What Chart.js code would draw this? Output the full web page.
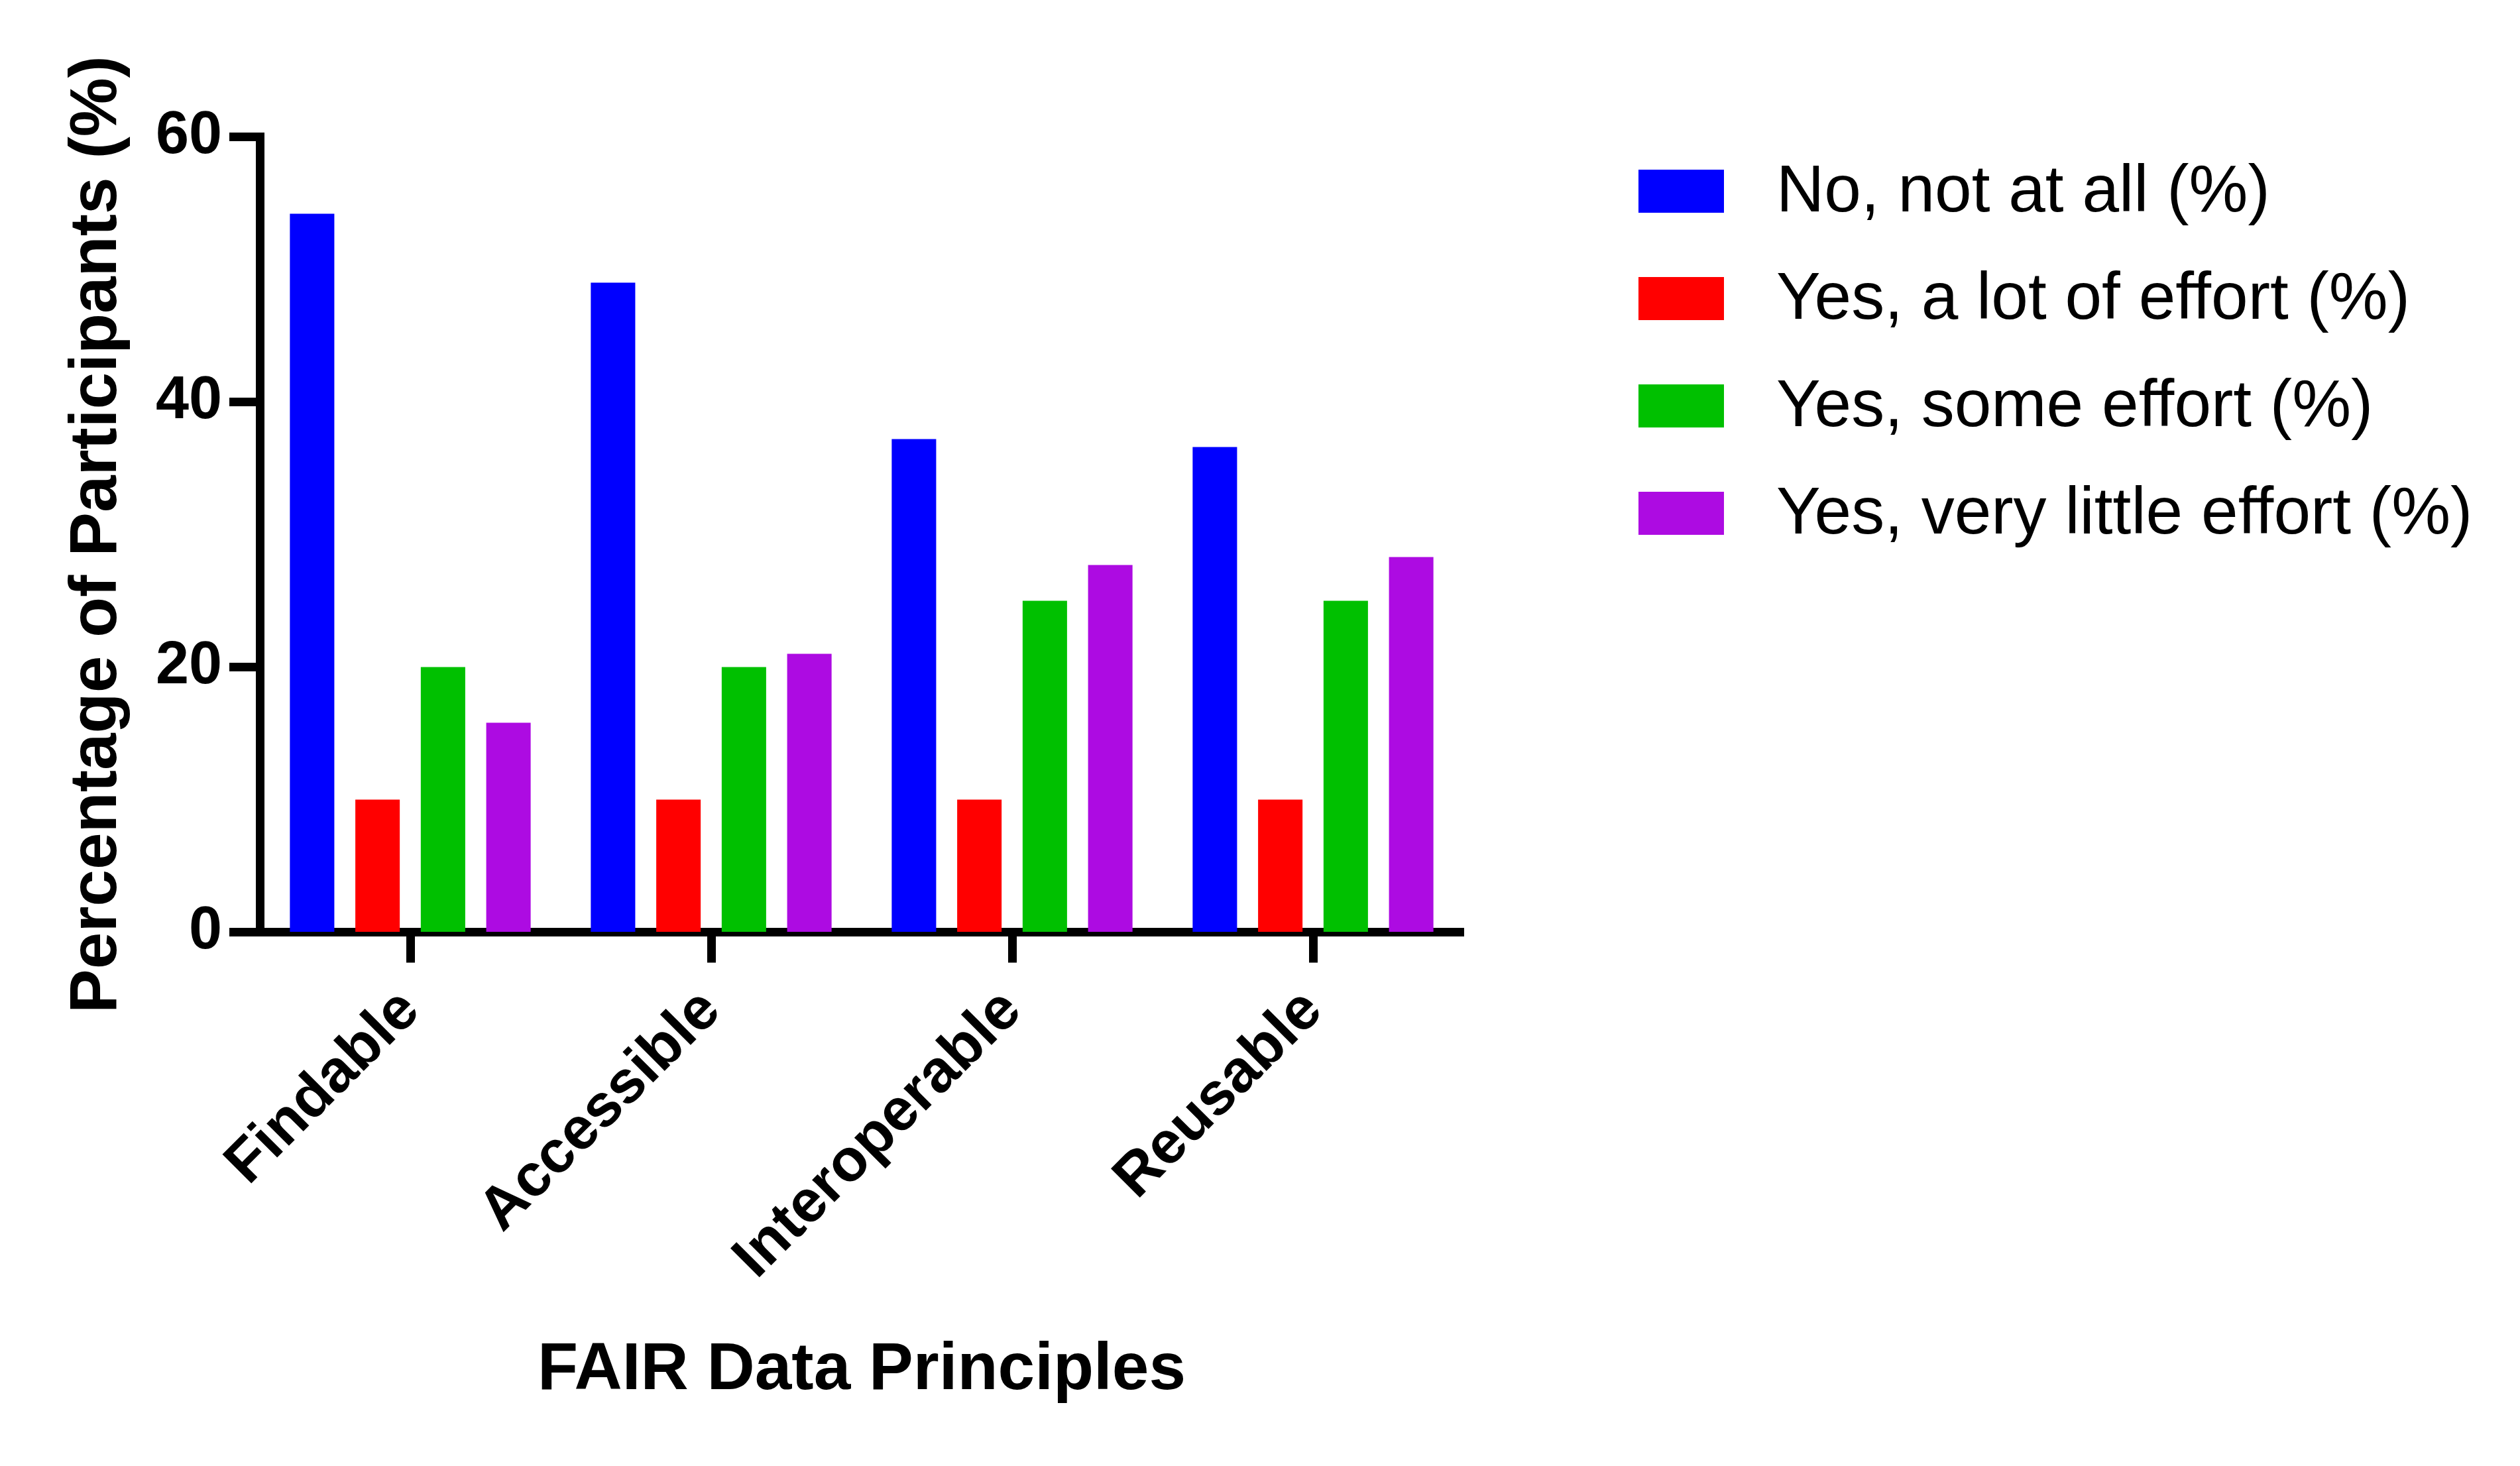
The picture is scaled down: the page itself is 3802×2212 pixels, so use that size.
<!DOCTYPE html>
<html>
<head>
<meta charset="utf-8">
<title>FAIR Data Principles</title>
<script src="https://cdn.jsdelivr.net/npm/chart.js@4.4.1/dist/chart.umd.min.js"></script>
<style>
  html, body { margin: 0; padding: 0; background: #ffffff; }
  #wrap { width: 3802px; height: 2212px; }
</style>
</head>
<body>
<div id="wrap"><canvas id="fairChart" width="3802" height="2212"></canvas></div>
<script>
// categorias e valores (%)
const principles = ['Findable', 'Accessible', 'Interoperable', 'Reusable'];
const seriesNames = ['No, not at all (%)', 'Yes, a lot of effort (%)', 'Yes, some effort (%)', 'Yes, very little effort (%)'];
const notAtAll = [54.2, 49.0, 37.2, 36.6];
const lotOfEffort = [10, 10, 10, 10];
const someEffort = [20, 20, 25, 25];
const veryLittleEffort = [15.8, 21.0, 27.7, 28.3];
const yTicks = [0, 20, 40, 60];

const seriesColors = ['#0000FF', '#FF0000', '#00C000', '#AD0BE2'];
const FONT = "'Liberation Sans', Arial, Helvetica, sans-serif";

// legenda desenhada à mão, lendo rótulos e cores dos datasets
const sideLegend = {
  id: 'sideLegend',
  afterDraw(chart) {
    const ctx = chart.ctx;
    ctx.save();
    ctx.font = '100px ' + FONT;
    ctx.textAlign = 'left';
    ctx.textBaseline = 'alphabetic';
    chart.data.datasets.forEach((ds, i) => {
      const cy = 288.5 + i * 162;
      ctx.fillStyle = ds.backgroundColor;
      ctx.fillRect(2472, cy - 32.5, 129, 65);
      ctx.fillStyle = '#000000';
      ctx.fillText(ds.label, 2680, cy + 30.5);
    });
    ctx.restore();
  }
};

const allSeries = [notAtAll, lotOfEffort, someEffort, veryLittleEffort];

new Chart(document.getElementById('fairChart'), {
  type: 'bar',
  data: {
    labels: principles,
    datasets: allSeries.map((vals, i) => ({
      label: seriesNames[i],
      data: vals,
      backgroundColor: seriesColors[i],
      borderWidth: 0,
      categoryPercentage: 0.87,
      barPercentage: 0.679
    }))
  },
  options: {
    responsive: false,
    animation: false,
    devicePixelRatio: 1,
    layout: { padding: { top: 206.5, right: 1594, left: 0, bottom: 0 } },
    plugins: {
      legend: { display: false },
      tooltip: { enabled: false }
    },
    scales: {
      x: {
        afterFit: scale => { scale.height = 805.5; },
        grid: { display: true, offset: false, drawOnChartArea: false, drawTicks: true, tickLength: 46, tickWidth: 13, tickColor: '#000', color: '#000' },
        border: { display: true, width: 13, color: '#000' },
        ticks: {
          color: '#000',
          font: { family: FONT, size: 90, weight: 'bold' },
          autoSkip: false,
          minRotation: 45,
          maxRotation: 45,
          padding: 20
        },
        title: {
          display: true,
          text: 'FAIR Data Principles',
          color: '#000',
          font: { family: FONT, size: 100, weight: 'bold' },
          padding: { top: 0, bottom: 84 }
        }
      },
      y: {
        min: 0,
        max: 60,
        afterFit: scale => { scale.width = 392; },
        afterBuildTicks: scale => { scale.ticks = yTicks.map(v => ({ value: v })); },
        grid: { display: true, drawOnChartArea: false, drawTicks: true, tickLength: 46, tickWidth: 13, tickColor: '#000', color: '#000' },
        border: { display: true, width: 13, color: '#000' },
        ticks: {
          color: '#000',
          font: { family: FONT, size: 90, weight: 'bold' },
          padding: 11
        },
        title: {
          display: true,
          text: 'Percentage of Participants (%)',
          color: '#000',
          font: { family: FONT, size: 100, weight: 'bold' },
          padding: { top: 87, bottom: 0 }
        }
      }
    }
  },
  plugins: [sideLegend]
});
</script>
</body>
</html>
